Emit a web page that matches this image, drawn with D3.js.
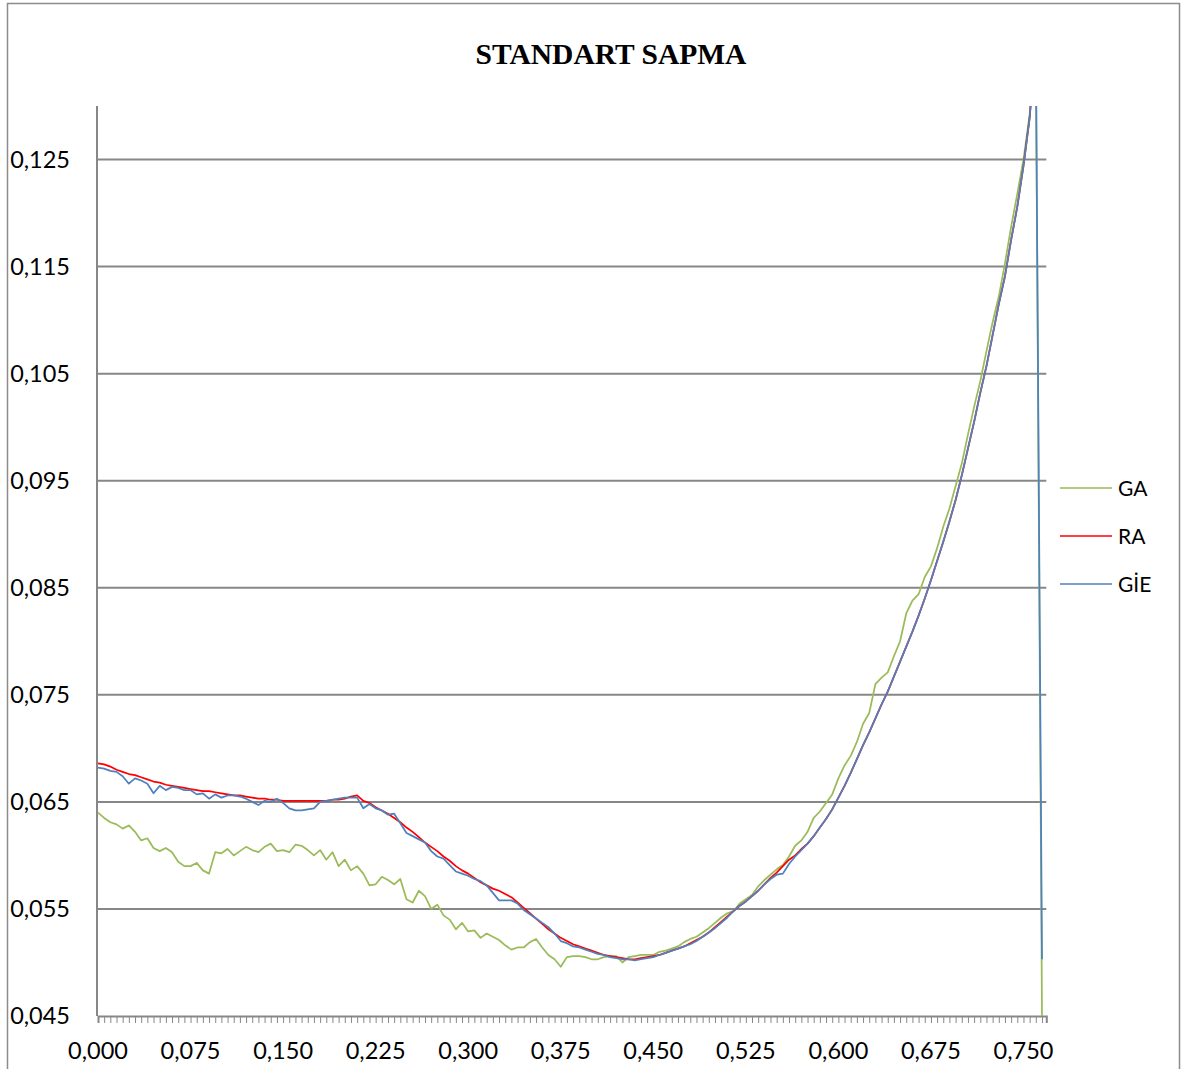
<!DOCTYPE html>
<meta charset="utf-8">

<head>
  <script src="https://d3js.org/d3.v7.min.js"></script>
</head>
<style>
  body {
    margin: 0;
    background: #fff;
  }

  .grid line {
    stroke: #878787;
    stroke-width: 2;
  }

  .label {
    font-family: Lato, "Open Sans", sans-serif;
    fill: #000;
  }
</style>

<body>
  <script>
    // kategori (x) degerleri
    var categories = [
      0.000, 0.005, 0.010, 0.015, 0.020, 0.025, 0.030, 0.035, 0.040, 0.045,
      0.050, 0.055, 0.060, 0.065, 0.070, 0.075, 0.080, 0.085, 0.090, 0.095,
      0.100, 0.105, 0.110, 0.115, 0.120, 0.125, 0.130, 0.135, 0.140, 0.145,
      0.150, 0.155, 0.160, 0.165, 0.170, 0.175, 0.180, 0.185, 0.190, 0.195,
      0.200, 0.205, 0.210, 0.215, 0.220, 0.225, 0.230, 0.235, 0.240, 0.245,
      0.250, 0.255, 0.260, 0.265, 0.270, 0.275, 0.280, 0.285, 0.290, 0.295,
      0.300, 0.305, 0.310, 0.315, 0.320, 0.325, 0.330, 0.335, 0.340, 0.345,
      0.350, 0.355, 0.360, 0.365, 0.370, 0.375, 0.380, 0.385, 0.390, 0.395,
      0.400, 0.405, 0.410, 0.415, 0.420, 0.425, 0.430, 0.435, 0.440, 0.445,
      0.450, 0.455, 0.460, 0.465, 0.470, 0.475, 0.480, 0.485, 0.490, 0.495,
      0.500, 0.505, 0.510, 0.515, 0.520, 0.525, 0.530, 0.535, 0.540, 0.545,
      0.550, 0.555, 0.560, 0.565, 0.570, 0.575, 0.580, 0.585, 0.590, 0.595,
      0.600, 0.605, 0.610, 0.615, 0.620, 0.625, 0.630, 0.635, 0.640, 0.645,
      0.650, 0.655, 0.660, 0.665, 0.670, 0.675, 0.680, 0.685, 0.690, 0.695,
      0.700, 0.705, 0.710, 0.715, 0.720, 0.725, 0.730, 0.735, 0.740, 0.745,
      0.750, 0.755, 0.760, 0.765
    ];

    var gaValues = [
      0.0640, 0.0635, 0.0631, 0.0629, 0.0625, 0.0628, 0.0622, 0.0614, 0.0616, 0.0607,
      0.0604, 0.0607, 0.0603, 0.0594, 0.0590, 0.0590, 0.0593, 0.0586, 0.0583, 0.0603,
      0.0602, 0.0606, 0.0600, 0.0604, 0.0608, 0.0605, 0.0603, 0.0608, 0.0611, 0.0604,
      0.0605, 0.0603, 0.0610, 0.0609, 0.0605, 0.0600, 0.0605, 0.0596, 0.0603, 0.0590,
      0.0596, 0.0586, 0.0590, 0.0583, 0.0572, 0.0573, 0.0580, 0.0577, 0.0573, 0.0578,
      0.0559, 0.0556, 0.0567, 0.0562, 0.0550, 0.0554, 0.0544, 0.0540, 0.0531, 0.0537,
      0.0529, 0.0530, 0.0523, 0.0527, 0.0524, 0.0521, 0.0516, 0.0512, 0.0514, 0.0514,
      0.0519, 0.0522, 0.0514, 0.0507, 0.0503, 0.0496, 0.0505, 0.0506, 0.0506, 0.0505,
      0.0503, 0.0503, 0.0505, 0.0506, 0.0506, 0.0500, 0.0505, 0.0506, 0.0507, 0.0507,
      0.0507, 0.0510, 0.0511, 0.0513, 0.0515, 0.0519, 0.0522, 0.0524, 0.0528, 0.0532,
      0.0537, 0.0542, 0.0546, 0.0548, 0.0555, 0.0559, 0.0563, 0.0571, 0.0577, 0.0582,
      0.0587, 0.0591, 0.0599, 0.0609, 0.0614, 0.0622, 0.0635, 0.0641, 0.0649, 0.0657,
      0.0672, 0.0684, 0.0693, 0.0706, 0.0723, 0.0733, 0.0760, 0.0766, 0.0771, 0.0786,
      0.0800, 0.0826, 0.0838, 0.0844, 0.0860, 0.0870, 0.0887, 0.0907, 0.0924, 0.0945,
      0.0966, 0.0993, 0.1019, 0.1043, 0.1071, 0.1098, 0.1122, 0.1153, 0.1187, 0.1218,
      0.1250, 0.1292, 0.1360, 0.0450
    ];

    // son nokta yok (RA cizgisi tepeden cikip bitiyor)
    var raValues = [
      0.0686, 0.0685, 0.0683, 0.0680, 0.0678, 0.0676, 0.0675, 0.0673, 0.0671, 0.0669,
      0.0668, 0.0666, 0.0665, 0.0664, 0.0663, 0.0662, 0.0661, 0.0660, 0.0660, 0.0659,
      0.0658, 0.0657, 0.0656, 0.0656, 0.0655, 0.0654, 0.0653, 0.0653, 0.0652, 0.0652,
      0.0651, 0.0651, 0.0651, 0.0651, 0.0651, 0.0651, 0.0651, 0.0651, 0.0652, 0.0652,
      0.0653, 0.0655, 0.0656, 0.0651, 0.0649, 0.0645, 0.0642, 0.0639, 0.0635, 0.0631,
      0.0626, 0.0622, 0.0617, 0.0612, 0.0608, 0.0604, 0.0599, 0.0595, 0.0590, 0.0586,
      0.0583, 0.0579, 0.0575, 0.0572, 0.0569, 0.0567, 0.0564, 0.0561, 0.0556, 0.0551,
      0.0546, 0.0541, 0.0536, 0.0531, 0.0527, 0.0523, 0.0520, 0.0517, 0.0515, 0.0513,
      0.0511, 0.0509, 0.0507, 0.0506, 0.0505, 0.0504, 0.0503, 0.0503, 0.0504, 0.0505,
      0.0506, 0.0507, 0.0509, 0.0511, 0.0513, 0.0515, 0.0518, 0.0521, 0.0524, 0.0528,
      0.0533, 0.0538, 0.0543, 0.0548, 0.0553, 0.0557, 0.0562, 0.0567, 0.0573, 0.0579,
      0.0584, 0.0590, 0.0596, 0.0600, 0.0606, 0.0611, 0.0618, 0.0626, 0.0634, 0.0643,
      0.0654, 0.0665, 0.0677, 0.0690, 0.0703, 0.0715, 0.0728, 0.0741, 0.0753, 0.0767,
      0.0781, 0.0795, 0.0809, 0.0824, 0.0840, 0.0857, 0.0875, 0.0893, 0.0912, 0.0932,
      0.0955, 0.0980, 0.1005, 0.1032, 0.1057, 0.1086, 0.1115, 0.1141, 0.1175, 0.1206,
      0.1244, 0.1289, 0.1360, null
    ];

    var gieValues = [
      0.0682, 0.0681, 0.0679, 0.0678, 0.0674, 0.0667, 0.0672, 0.0670, 0.0667, 0.0658,
      0.0665, 0.0661, 0.0664, 0.0663, 0.0661, 0.0661, 0.0657, 0.0658, 0.0653, 0.0657,
      0.0654, 0.0656, 0.0656, 0.0655, 0.0653, 0.0650, 0.0647, 0.0651, 0.0650, 0.0653,
      0.0649, 0.0644, 0.0642, 0.0642, 0.0643, 0.0644, 0.0650, 0.0651, 0.0652, 0.0653,
      0.0654, 0.0654, 0.0654, 0.0644, 0.0648, 0.0644, 0.0642, 0.0638, 0.0639, 0.0630,
      0.0621, 0.0618, 0.0615, 0.0612, 0.0604, 0.0599, 0.0597, 0.0591, 0.0585, 0.0583,
      0.0581, 0.0578, 0.0576, 0.0572, 0.0565, 0.0558, 0.0558, 0.0558, 0.0555, 0.0549,
      0.0545, 0.0541, 0.0537, 0.0533, 0.0527, 0.0520, 0.0518, 0.0515, 0.0514, 0.0512,
      0.0510, 0.0508, 0.0507, 0.0505, 0.0504, 0.0503, 0.0503, 0.0502, 0.0503, 0.0504,
      0.0505, 0.0507, 0.0509, 0.0511, 0.0513, 0.0515, 0.0517, 0.0520, 0.0524, 0.0528,
      0.0532, 0.0537, 0.0542, 0.0548, 0.0553, 0.0557, 0.0562, 0.0567, 0.0573, 0.0578,
      0.0582, 0.0583, 0.0592, 0.0599, 0.0605, 0.0611, 0.0618, 0.0626, 0.0634, 0.0643,
      0.0654, 0.0665, 0.0677, 0.0690, 0.0703, 0.0715, 0.0728, 0.0741, 0.0753, 0.0767,
      0.0781, 0.0795, 0.0809, 0.0824, 0.0840, 0.0857, 0.0875, 0.0893, 0.0912, 0.0932,
      0.0955, 0.0980, 0.1005, 0.1032, 0.1057, 0.1086, 0.1115, 0.1141, 0.1175, 0.1206,
      0.1244, 0.1289, 0.1360, 0.0503
    ];

    var seriesNames = ["GA", "RA", "GİE"];
    var seriesColors = ["#9BBB59", "#FF0000", "#4F81BD"];

    var yTickValues = [0.045, 0.055, 0.065, 0.075, 0.085, 0.095, 0.105, 0.115, 0.125];
    var yTickLabels = ["0,045", "0,055", "0,065", "0,075", "0,085", "0,095", "0,105", "0,115", "0,125"];
    var xTickValues = [0.000, 0.075, 0.150, 0.225, 0.300, 0.375, 0.450, 0.525, 0.600, 0.675, 0.750];
    var xTickLabels = ["0,000", "0,075", "0,150", "0,225", "0,300", "0,375", "0,450", "0,525", "0,600", "0,675", "0,750"];

    var width = 1184, height = 1069;

    var svg = d3.select("body").append("svg")
      .attr("width", width)
      .attr("height", height);

    // dis cerceve
    svg.append("rect")
      .attr("x", 7.5).attr("y", 3.5)
      .attr("width", 1172).attr("height", 1100)
      .attr("fill", "#fff")
      .attr("stroke", "#8c8c8c")
      .attr("stroke-width", 1.5);

    svg.append("text")
      .attr("x", 611).attr("y", 64)
      .attr("text-anchor", "middle")
      .attr("font-family", "'Liberation Serif', 'Times New Roman', serif")
      .attr("font-weight", "bold")
      .attr("font-size", 29.5)
      .text("STANDART SAPMA");

    var x = d3.scaleLinear().domain([0, 0.7685]).range([98, 1046.3]);
    var y = d3.scaleLinear().domain([0.045, 0.13]).range([1016, 106]);

    // yatay izgara cizgileri
    svg.append("g").attr("class", "grid")
      .selectAll("line")
      .data(yTickValues.slice(1))
      .enter().append("line")
      .attr("x1", 98).attr("x2", 1046.3)
      .attr("y1", function (d) { return y(d); })
      .attr("y2", function (d) { return y(d); });

    // y ekseni
    svg.append("line")
      .attr("x1", 97).attr("x2", 97)
      .attr("y1", y(0.13)).attr("y2", 1016)
      .attr("stroke", "#878787").attr("stroke-width", 2);

    svg.append("g")
      .selectAll("text")
      .data(yTickValues)
      .enter().append("text")
      .attr("class", "label")
      .attr("x", 70)
      .attr("y", function (d) { return y(d); })
      .attr("dy", "0.36em")
      .attr("text-anchor", "end")
      .attr("font-size", 23.5)
      .text(function (d, i) { return yTickLabels[i]; });

    // x ekseni
    var xAxis = d3.axisBottom(x)
      .tickValues(categories)
      .tickSize(7)
      .tickSizeOuter(7)
      .tickFormat("");

    var gx = svg.append("g")
      .attr("transform", "translate(0,1016)")
      .call(xAxis);
    gx.select(".domain").attr("stroke", "#878787").attr("stroke-width", 2);
    gx.selectAll(".tick line").attr("stroke", "#878787").attr("stroke-width", 1);

    svg.append("g")
      .selectAll("text")
      .data(xTickValues)
      .enter().append("text")
      .attr("class", "label")
      .attr("x", function (d) { return x(d); })
      .attr("y", 1059)
      .attr("text-anchor", "middle")
      .attr("font-size", 23.5)
      .text(function (d, i) { return xTickLabels[i]; });

    // seriler
    svg.append("clipPath").attr("id", "plotClip")
      .append("rect")
      .attr("x", 90).attr("y", 106)
      .attr("width", 970).attr("height", 912);

    var line = d3.line()
      .defined(function (d) { return d !== null; })
      .x(function (d, i) { return x(categories[i]); })
      .y(function (d) { return y(d); });

    var allSeries = [gaValues, raValues, gieValues];

    svg.append("g")
      .attr("clip-path", "url(#plotClip)")
      .selectAll("path")
      .data(allSeries)
      .enter().append("path")
      .attr("d", line)
      .attr("fill", "none")
      .attr("stroke", function (d, i) { return seriesColors[i]; })
      .attr("stroke-width", 1.75)
      .attr("stroke-linejoin", "round");

    // lejant
    var legend = svg.append("g")
      .selectAll("g")
      .data(seriesNames)
      .enter().append("g")
      .attr("transform", function (d, i) { return "translate(1060," + (488 + i * 48) + ")"; });

    legend.append("line")
      .attr("x1", 0).attr("x2", 52)
      .attr("y1", 0).attr("y2", 0)
      .attr("stroke", function (d, i) { return seriesColors[i]; })
      .attr("stroke-width", 1.5);

    legend.append("text")
      .attr("class", "label")
      .attr("x", 58).attr("y", 0)
      .attr("dy", "0.36em")
      .attr("font-size", 21)
      .text(function (d) { return d; });
  </script>
</body>
